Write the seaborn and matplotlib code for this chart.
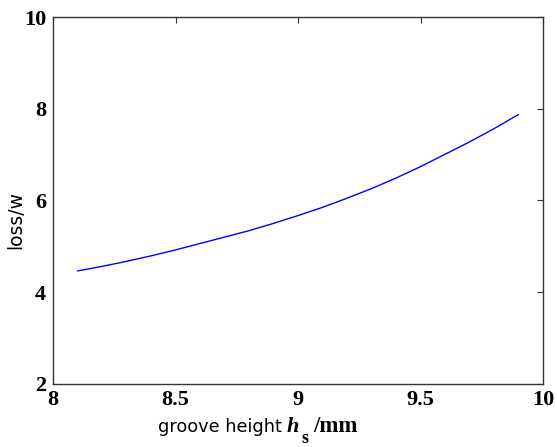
import matplotlib
matplotlib.use("Agg")
import matplotlib.pyplot as plt
import seaborn as sns
import pandas as pd

# data
groove_height = [8.1, 8.2, 8.3, 8.4, 8.5, 8.6, 8.7, 8.8, 8.9, 9.0,
                 9.1, 9.2, 9.3, 9.4, 9.5, 9.6, 9.7, 9.8, 9.9]
loss = [4.46, 4.56, 4.67, 4.79, 4.92, 5.06, 5.20, 5.34, 5.50, 5.67,
        5.85, 6.05, 6.26, 6.49, 6.74, 7.01, 7.28, 7.57, 7.88]
x_ticks = [8, 8.5, 9, 9.5, 10]
x_tick_labels = ["8", "8.5", "9", "9.5", "10"]
y_ticks = [2, 4, 6, 8, 10]
y_tick_labels = ["2", "4", "6", "8", "10"]

df = pd.DataFrame({"h": groove_height, "loss": loss})

sns.set_style("white")
plt.rcParams["font.family"] = ["DejaVu Sans"]
plt.rcParams["text.color"] = "black"
plt.rcParams["xtick.color"] = "black"
plt.rcParams["ytick.color"] = "black"

W, H = 557, 447
fig = plt.figure(figsize=(W / 100, H / 100), dpi=100)
ax = fig.add_axes([53 / W, 1 - 383.5 / H, 490 / W, 366 / H])

sns.lineplot(data=df, x="h", y="loss", ax=ax, color="#0000ff", linewidth=1.0)

ax.set_xlim(8, 10)
ax.set_ylim(2, 10)
ax.set_xticks(x_ticks)
ax.set_xticklabels(x_tick_labels)
ax.set_yticks(y_ticks)
ax.set_yticklabels(y_tick_labels)

for lab in ax.get_xticklabels() + ax.get_yticklabels():
    lab.set_fontfamily("Liberation Serif")
    lab.set_fontweight("bold")
    lab.set_fontsize(16)
    lab.set_color("black")

ax.tick_params(axis="both", direction="in", length=4, width=0.8,
               top=True, right=True, color="#333333")
ax.tick_params(axis="x", pad=5)
ax.tick_params(axis="y", pad=5)

for s in ax.spines.values():
    s.set_visible(True)
    s.set_color("#333333")
    s.set_linewidth(1.0)

ax.set_xlabel("")
ax.set_ylabel("")


def px(x, y):
    return x / W, 1 - y / H


# x label pieces
fig.text(*px(158, 432), "groove height", fontsize=12.8, ha="left", va="baseline",
         family="DejaVu Sans", color="black")
fig.text(*px(287, 432), "h", fontsize=16, ha="left", va="baseline",
         family="Liberation Serif", weight="bold", style="italic", color="black")
fig.text(*px(302, 443), "s", fontsize=13, ha="left", va="baseline",
         family="Liberation Serif", weight="bold", color="black")
fig.text(*px(313, 432), "/mm", fontsize=16.5, ha="left", va="baseline",
         family="Liberation Serif", weight="bold", color="black")

# y label
fig.text(*px(15.5, 220), "loss/w", fontsize=13.5, rotation=90, ha="center",
         va="center", family="DejaVu Sans", color="black")

fig.savefig("out.png", dpi=100)
